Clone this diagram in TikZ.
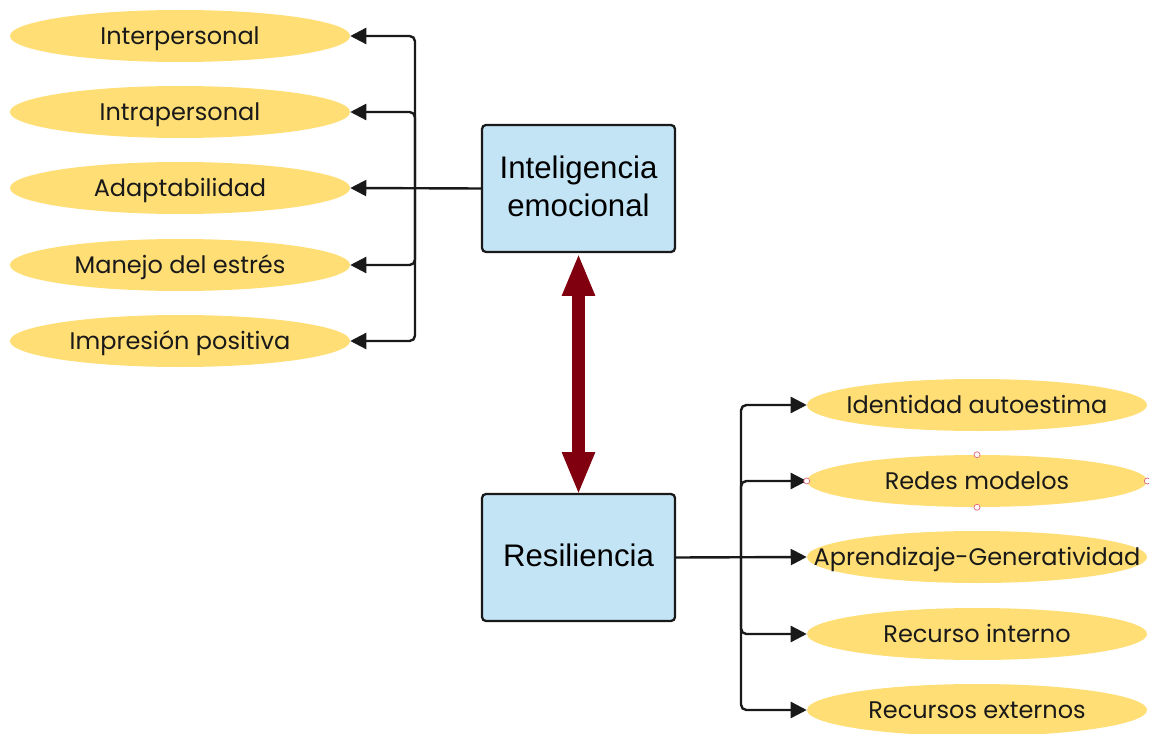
\documentclass[tikz,border=0pt]{standalone}
\usepackage{fontspec}
\setmainfont{Liberation Sans}
\newfontfamily\popfont{Poppins}
\usetikzlibrary{arrows.meta,shapes.geometric}
\definecolor{ellfill}{HTML}{FFDE75}
\definecolor{boxfill}{HTML}{C3E4F5}
\definecolor{darkred}{HTML}{80000F}
\definecolor{handle}{HTML}{E0607A}
\newcommand{\elltext}[1]{\makebox[0pt]{\raisebox{-6.6pt}[0pt][0pt]{#1}}}
\tikzset{
  ell/.style={ellipse, fill=ellfill, minimum width=255pt, minimum height=39pt, inner sep=0pt,
    font=\popfont\fontsize{18}{20}\selectfont, text=black!90},
  mainbox/.style={draw=black!90, line width=1.7pt, fill=boxfill, rounded corners=3pt,
    minimum width=144.75pt, minimum height=95.25pt, inner sep=0pt, align=center,
    font=\fontsize{23.4}{28.5}\selectfont},
  conn/.style={line width=1.8pt, draw=black!90, rounded corners=4pt,
    -{Triangle[length=12pt,width=12pt]}},
  link/.style={line width=9.75pt, draw=darkred,
    {Triangle[length=32pt,width=22.5pt]}-{Triangle[length=32pt,width=22.5pt]}},
  hnd/.style={circle, draw=handle, fill=white, line width=0.5pt, minimum size=4.5pt, inner sep=0pt}
}
\begin{document}
\begin{tikzpicture}[x=0.75pt,y=-0.75pt]
\useasboundingbox (0,0) rectangle (1149,734);
% left ellipses
\node[ell] (a1) at (180,36) {\elltext{Interpersonal}};
\node[ell] (a2) at (180,112) {\elltext{Intrapersonal}};
\node[ell] (a3) at (180,188) {\elltext{Adaptabilidad}};
\node[ell] (a4) at (180,265) {\elltext{Manejo del estrés}};
\node[ell] (a5) at (180,341) {\elltext{Impresión positiva}};
% right ellipses
\node[ell] (b1) at (977,405) {\elltext{Identidad autoestima}};
\node[ell] (b2) at (977,481) {\elltext{Redes modelos}};
\node[ell] (b3) at (977,557) {\elltext{Aprendizaje-Generatividad}};
\node[ell] (b4) at (977,634) {\elltext{Recurso interno}};
\node[ell] (b5) at (977,710) {\elltext{Recursos externos}};
% boxes
\node[mainbox] (ie) at (578.5,188.5) {\raisebox{3pt}{Inteligencia}\\\raisebox{3pt}{emocional}};
\node[mainbox] (rs) at (578.5,557.5) {\raisebox{4pt}{Resiliencia}};
% trunk coordinates
\coordinate (tl) at (415,188);
\coordinate (tr) at (741,557);
% left connectors
\draw[conn] (ie.west) -- (a3.east);
\draw[conn] (tl) |- (a1.east);
\draw[conn] (tl) |- (a2.east);
\draw[conn] (tl) |- (a4.east);
\draw[conn] (tl) |- (a5.east);
% right connectors
\draw[conn] (rs.east) -- (b3.west);
\draw[conn] (tr) |- (b1.west);
\draw[conn] (tr) |- (b2.west);
\draw[conn] (tr) |- (b4.west);
\draw[conn] (tr) |- (b5.west);
% double arrow
\draw[link] (ie.south) -- ([yshift=-1.5pt]rs.north);
% selection handles
\node[hnd] at (b2.north) {};
\node[hnd] at (b2.south) {};
\node[hnd] at (b2.west) {};
\node[hnd] at (b2.east) {};
\end{tikzpicture}
\end{document}
